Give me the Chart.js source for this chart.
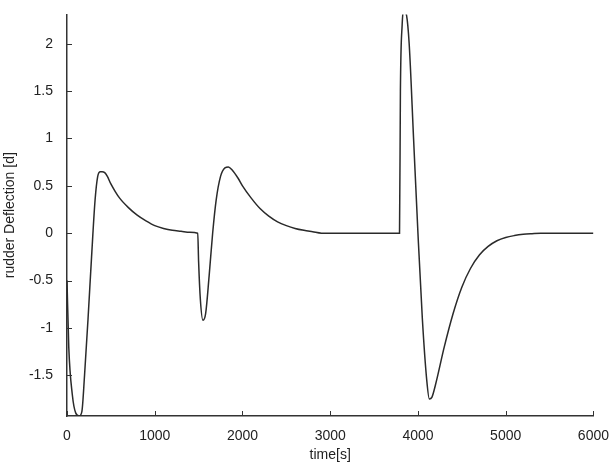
<!DOCTYPE html>
<html>
<head>
<meta charset="utf-8">
<script src="https://cdn.jsdelivr.net/npm/chart.js@4"></script>
<style>
  body { margin: 0; background: #fff; }
  #wrap { width: 613px; height: 464px; }
</style>
</head>
<body>
<div id="wrap"><canvas id="c" width="613" height="464"></canvas></div>
<script>
// time [s]
const times = [0,20,60,100,140,170,200,240,280,320,350,380,400,430,460,500,550,600,700,800,900,1000,1100,1200,1300,1400,1490,
  1500,1520,1550,1580,1620,1660,1700,1750,1800,1840,1880,1950,2000,2100,2200,2300,2400,2500,2600,2700,2800,2900,3790,
  3800,3820,3840,3870,3900,3950,4000,4050,4100,4130,4160,4200,4300,4400,4500,4600,4700,4800,4900,5000,5100,5200,5300,5400,6000];
// rudder deflection [d]
const deflection = [-0.5,-1.2,-1.7,-1.9,-1.93,-1.88,-1.5,-0.9,-0.25,0.35,0.6,0.65,0.65,0.64,0.6,0.52,0.44,0.37,0.27,0.19,0.13,0.08,0.05,0.03,0.02,0.01,0.0,
  -0.3,-0.7,-0.92,-0.85,-0.45,0.0,0.35,0.6,0.69,0.7,0.67,0.58,0.5,0.37,0.26,0.18,0.12,0.08,0.05,0.03,0.015,0.0,0.0,
  1.5,2.2,2.35,2.3,2.0,1.0,0.0,-0.9,-1.55,-1.75,-1.73,-1.6,-1.2,-0.85,-0.57,-0.37,-0.23,-0.14,-0.08,-0.045,-0.025,-0.012,-0.005,0.0,0.0];
const xTicks = [0,1000,2000,3000,4000,5000,6000];
const yTicks = [-1.5,-1,-0.5,0,0.5,1,1.5,2];

const points = times.map((t, i) => ({ x: t, y: deflection[i] }));

// small inward tick marks, like the original plot
const innerTicks = {
  id: 'innerTicks',
  afterDraw(chart) {
    const { ctx, chartArea, scales } = chart;
    ctx.save();
    ctx.strokeStyle = '#333';
    ctx.lineWidth = 1;
    ctx.beginPath();
    xTicks.forEach(v => {
      const px = Math.round(scales.x.getPixelForValue(v)) + 0.5;
      ctx.moveTo(px, chartArea.bottom);
      ctx.lineTo(px, chartArea.bottom - 5);
    });
    yTicks.forEach(v => {
      const py = Math.round(scales.y.getPixelForValue(v)) + 0.5;
      ctx.moveTo(chartArea.left, py);
      ctx.lineTo(chartArea.left + 5, py);
    });
    ctx.stroke();
    ctx.restore();
  }
};

const font = { family: 'Liberation Sans', size: 14 };

new Chart(document.getElementById('c'), {
  type: 'line',
  data: {
    datasets: [{
      data: points,
      borderColor: '#2a2a2a',
      borderWidth: 1.5,
      pointRadius: 0,
      cubicInterpolationMode: 'monotone'
    }]
  },
  options: {
    responsive: false,
    animation: false,
    layout: { padding: { left: 0, right: 17, top: 8, bottom: 0 } },
    plugins: { legend: { display: false }, tooltip: { enabled: false } },
    scales: {
      x: {
        type: 'linear',
        min: 0, max: 6000,
        afterFit(s) { s.height = 48; },
        afterBuildTicks(s) { s.ticks = xTicks.map(v => ({ value: v })); },
        grid: { display: false },
        border: { display: true, color: '#333', width: 1.5 },
        ticks: { color: '#222', font, padding: 4, maxRotation: 0, callback: v => String(v) },
        title: { display: true, text: 'time[s]', color: '#222', font, padding: 0 }
      },
      y: {
        min: -1.93, max: 2.31,
        afterFit(s) { s.width = 67; },
        afterBuildTicks(s) { s.ticks = yTicks.map(v => ({ value: v })); },
        grid: { display: false },
        border: { display: true, color: '#333', width: 1.5 },
        ticks: { color: '#222', font, padding: 6, callback: v => String(v) },
        title: { display: true, text: 'rudder Deflection [d]', color: '#222', font, padding: 2 }
      }
    }
  },
  plugins: [innerTicks]
});
</script>
</body>
</html>
